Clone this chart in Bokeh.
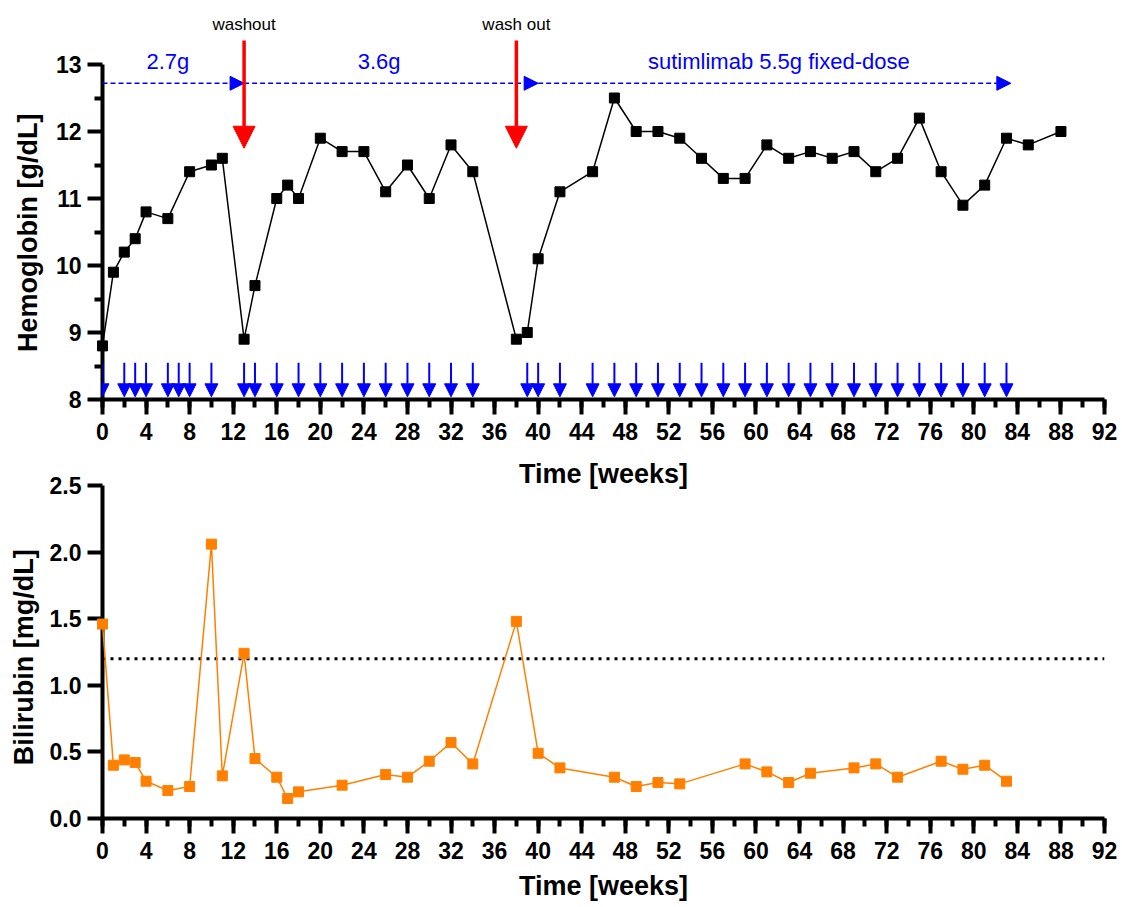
import math
from bokeh.plotting import figure
from bokeh.layouts import column
from bokeh.models import (Range1d, FixedTicker, Arrow, NormalHead, Span,
                          ColumnDataSource, PrintfTickFormatter)
from bokeh.core.properties import value
from bokeh.embed import file_html
from bokeh.resources import INLINE

FONT = "Liberation Sans"

# ---------------- data ----------------
hb_weeks = [0, 1, 2, 3, 4, 6, 8, 10, 11, 13, 14, 16, 17, 18, 20, 22, 24, 26, 28, 30, 32, 34,
            38, 39, 40, 42, 45, 47, 49, 51, 53, 55, 57, 59, 61, 63, 65, 67, 69, 71, 73, 75,
            77, 79, 81, 83, 85, 88]
hb_values = [8.8, 9.9, 10.2, 10.4, 10.8, 10.7, 11.4, 11.5, 11.6, 8.9, 9.7, 11.0, 11.2, 11.0,
             11.9, 11.7, 11.7, 11.1, 11.5, 11.0, 11.8, 11.4, 8.9, 9.0, 10.1, 11.1, 11.4, 12.5,
             12.0, 12.0, 11.9, 11.6, 11.3, 11.3, 11.8, 11.6, 11.7, 11.6, 11.7, 11.4, 11.6, 12.2,
             11.4, 10.9, 11.2, 11.9, 11.8, 12.0]

dose_weeks = [0, 2, 3, 4, 6, 7, 8, 10, 13, 14, 16, 18, 20, 22, 24, 26, 28, 30, 32, 34,
              39, 40, 42, 45, 47, 49, 51, 53, 55, 57, 59, 61, 63, 65, 67, 69, 71, 73, 75,
              77, 79, 81, 83]

washout_weeks = [13, 38]
washout_labels = ["washout", "wash out"]

regimen_start = [0, 13, 40]
regimen_end = [13, 40, 83.4]
regimen_labels = ["2.7g", "3.6g", "sutimlimab 5.5g fixed-dose"]

bili_weeks = [0, 1, 2, 3, 4, 6, 8, 10, 11, 13, 14, 16, 17, 18, 22, 26, 28, 30, 32, 34,
              38, 40, 42, 47, 49, 51, 53, 59, 61, 63, 65, 69, 71, 73, 77, 79, 81, 83]
bili_values = [1.46, 0.40, 0.44, 0.42, 0.28, 0.21, 0.24, 2.06, 0.32, 1.24, 0.45, 0.31, 0.15,
               0.20, 0.25, 0.33, 0.31, 0.43, 0.57, 0.41, 1.48, 0.49, 0.38, 0.31, 0.24, 0.27,
               0.26, 0.41, 0.35, 0.27, 0.34, 0.38, 0.41, 0.31, 0.43, 0.37, 0.40, 0.28]
bili_uln = 1.2

x_ticks = list(range(0, 93, 4))
x_minor = list(range(0, 93, 2))
hb_ticks = [8, 9, 10, 11, 12, 13]
hb_minor = [8.5, 9.5, 10.5, 11.5, 12.5]
bili_ticks = [0.0, 0.5, 1.0, 1.5, 2.0, 2.5]

x_title = "Time [weeks]"
hb_title = "Hemoglobin [g/dL]"
bili_title = "Bilirubin [mg/dL]"

ORANGE = "#FF8000"
TICK_FS = "23px"
TITLE_FS = "27px"


def style(p):
    p.grid.visible = False
    p.outline_line_color = None
    p.background_fill_color = "white"
    p.border_fill_color = "white"
    for ax in (p.xaxis[0], p.yaxis[0]):
        ax.axis_line_width = 4
        ax.axis_line_color = "black"
        ax.major_tick_line_width = 4
        ax.minor_tick_line_width = 4
        ax.major_tick_line_color = "black"
        ax.minor_tick_line_color = "black"
        ax.major_tick_in = 0
        ax.minor_tick_in = 0
        ax.major_tick_out = 15
        ax.minor_tick_out = 8
        ax.major_label_text_font = FONT
        ax.major_label_text_font_style = "bold"
        ax.major_label_text_font_size = TICK_FS
        ax.major_label_text_color = "black"
    p.xaxis[0].ticker = FixedTicker(ticks=x_ticks, minor_ticks=x_minor)
    p.xaxis[0].major_label_standoff = 8
    p.yaxis[0].major_label_standoff = 6


def title_text(p, x, y, text, angle=0.0):
    # drawn on the overlay level so that it is not clipped to the frame
    p.text(x=[x], y=[y], text=[text], angle=angle, text_align="center",
           text_baseline="middle", text_font=value(FONT), text_font_style="bold",
           text_font_size=TITLE_FS, text_color="black", level="overlay")


# ---------------- top: hemoglobin ----------------
p1 = figure(width=1120, height=456, title=None,
            x_range=Range1d(0, 92), y_range=Range1d(8, 13.836),
            output_backend="svg", toolbar_location=None,
            min_border_left=102, min_border_right=16, min_border_top=8, min_border_bottom=57)
style(p1)
p1.yaxis[0].bounds = (8, 13)
p1.yaxis[0].ticker = FixedTicker(ticks=hb_ticks, minor_ticks=hb_minor)
p1.yaxis[0].formatter = PrintfTickFormatter(format="%d")
title_text(p1, -6.8, 10.49, hb_title, angle=math.pi / 2)

# regimen dashed arrows
for xs, xe in zip(regimen_start, regimen_end):
    p1.add_layout(Arrow(end=NormalHead(size=14, fill_color="blue", line_color="blue", line_width=1),
                        x_start=xs, y_start=12.72, x_end=xe, y_end=12.72,
                        line_color="blue", line_width=1.6, line_dash="5 3"))
p1.text(x=[6.0, 25.4, 62.1], y=[13.04] * 3, text=regimen_labels,
        text_font=value(FONT), text_font_size="22px", text_color="blue",
        text_align="center", text_baseline="middle")

# washout arrows
for wx in washout_weeks:
    p1.add_layout(Arrow(end=NormalHead(size=22, fill_color="red", line_color="red", line_width=1),
                        x_start=wx, y_start=13.36, x_end=wx, y_end=11.75,
                        line_color="red", line_width=3.5))
p1.text(x=washout_weeks, y=[13.60] * 2, text=washout_labels,
        text_font=value(FONT), text_font_size="17px", text_color="black",
        text_align="center", text_baseline="middle")

# dosing arrows
dose_src = ColumnDataSource(dict(x=dose_weeks, y0=[8.55] * len(dose_weeks),
                                 y1=[8.04] * len(dose_weeks)))
p1.add_layout(Arrow(end=NormalHead(size=13, fill_color="blue", line_color="blue", line_width=1),
                    x_start="x", y_start="y0", x_end="x", y_end="y1", source=dose_src,
                    line_color="blue", line_width=2))

p1.line(hb_weeks, hb_values, line_color="black", line_width=1.5, level="overlay")
p1.scatter(hb_weeks, hb_values, marker="square", size=10, fill_color="black",
           line_color="black", level="overlay")

# ---------------- bottom: bilirubin ----------------
p2 = figure(width=1120, height=451, title=None,
            x_range=Range1d(0, 92), y_range=Range1d(0, 2.688),
            output_backend="svg", toolbar_location=None,
            min_border_left=102, min_border_right=16, min_border_top=4, min_border_bottom=89)
style(p2)
p2.yaxis[0].bounds = (0, 2.5)
p2.yaxis[0].ticker = FixedTicker(ticks=bili_ticks, minor_ticks=[])
p2.yaxis[0].formatter = PrintfTickFormatter(format="%.1f")
title_text(p2, -7.2, 1.211, bili_title, angle=math.pi / 2)

p2.add_layout(Span(location=bili_uln, dimension="width", line_color="black",
                   line_width=3, line_dash="3 5"))

# x-axis titles (the upper panel's title sits just above the lower panel)
title_text(p2, 46, 2.583, x_title)
title_text(p2, 46, -0.505, x_title)

p2.line(bili_weeks, bili_values, line_color=ORANGE, line_width=1.5, level="overlay")
p2.scatter(bili_weeks, bili_values, marker="square", size=10, fill_color=ORANGE,
           line_color=ORANGE, level="overlay")

layout = column(p1, p2)
open("out.html", "w").write(file_html(layout, INLINE))
